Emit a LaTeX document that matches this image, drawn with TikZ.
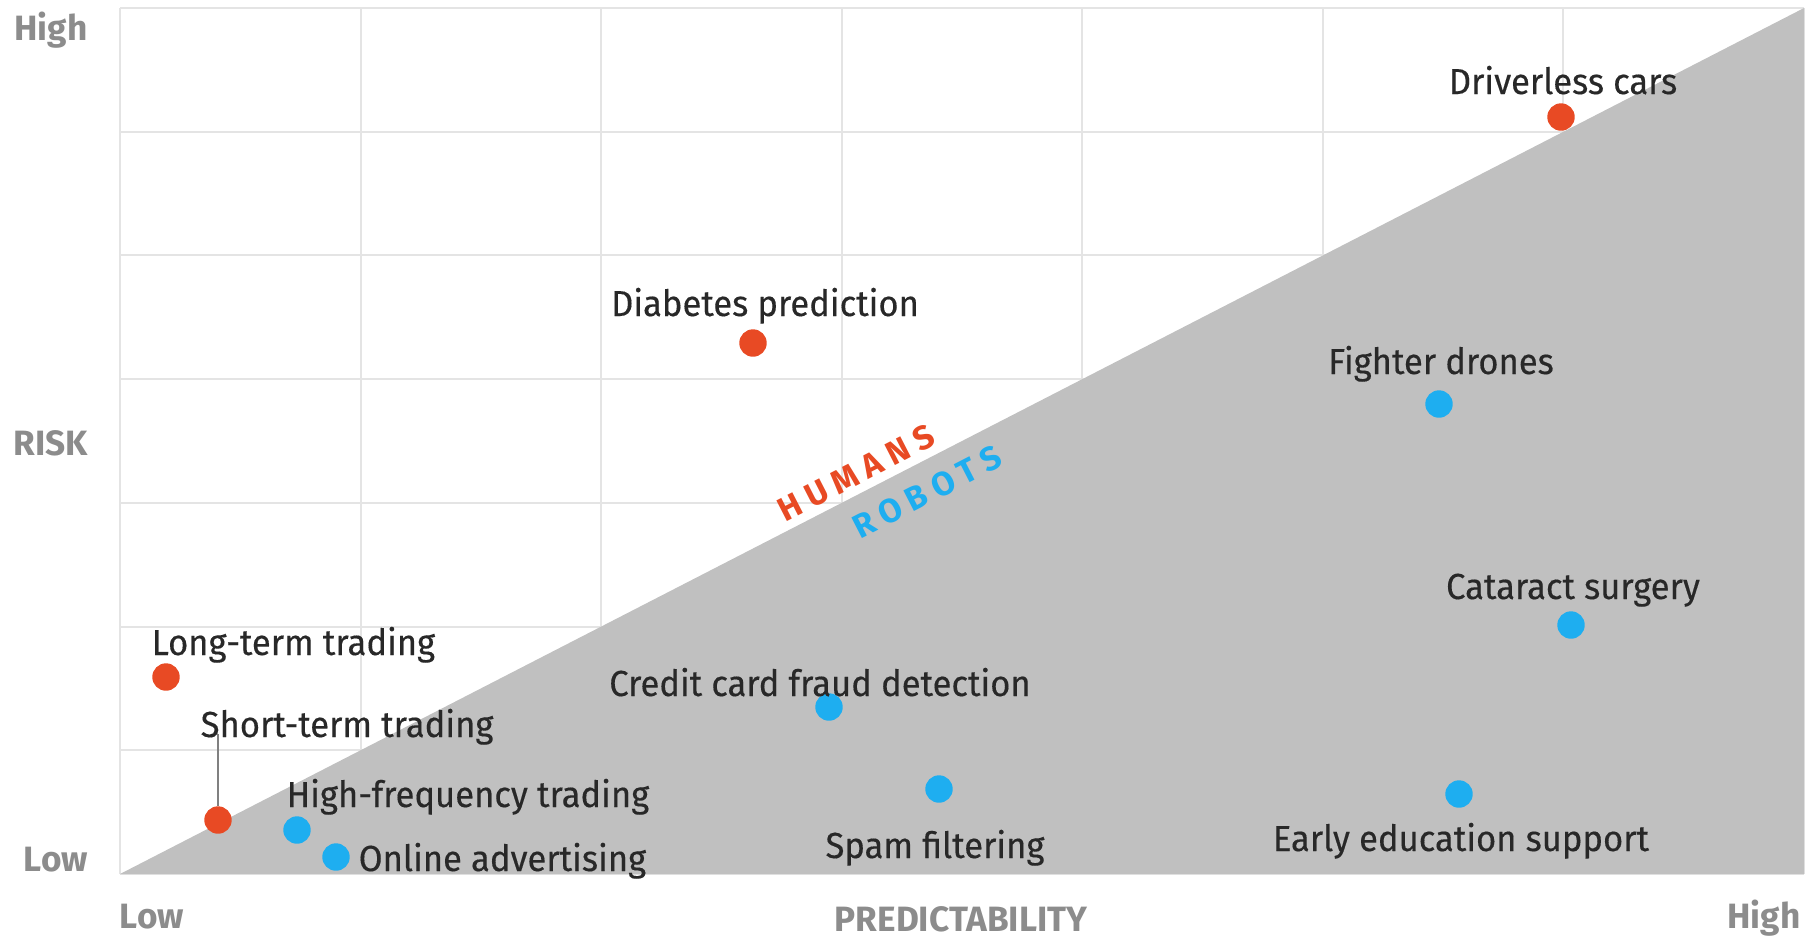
\documentclass[tikz,border=0pt]{standalone}
\usepackage{fontspec}
\setmainfont{Fira Sans}
\newfontfamily\lblfont{Fira Sans}[FakeStretch=0.955,FakeBold=0.3]
\definecolor{hred}{RGB}{232,74,36}
\definecolor{hblue}{RGB}{30,174,240}
\definecolor{zonegrey}{RGB}{192,192,192}
\definecolor{gridc}{RGB}{228,228,228}
\definecolor{axisc}{RGB}{140,140,140}
\definecolor{txt}{RGB}{40,40,40}
\begin{document}
\begin{tikzpicture}[x=0.01cm,y=-0.01cm,
  lbl/.style={font=\lblfont\fontsize{10.3}{12}\selectfont, text=txt, inner sep=0, anchor=base},
  lbll/.style={lbl, anchor=base west},
  axl/.style={font=\fontsize{10}{12}\selectfont\bfseries, text=axisc, inner sep=0, anchor=base},
  hdot/.style={circle, fill=hred, minimum size=7.8pt, inner sep=0},
  rdot/.style={circle, fill=hblue, minimum size=7.8pt, inner sep=0},
  gridline/.style={draw=gridc, line width=0.6pt},
  zone/.style={font=\fontsize{9.5}{11}\selectfont\bfseries\addfontfeature{LetterSpace=24}, inner sep=0, rotate=27.2}
]
\useasboundingbox (0,0) rectangle (1806,941);
\fill[white] (0,0) rectangle (1806,941);
% grid
\foreach \i in {0,...,7} {
  \draw[gridline] ({120+\i*240.57},8) -- ({120+\i*240.57},874);
  \draw[gridline] (120,{8+\i*123.71}) -- (1804,{8+\i*123.71});
}
% robots zone
\fill[zonegrey] (120,874) -- (1804,8) -- (1804,874) -- cycle;
% axis labels
\node[axl] (yhigh) at (51,40) {High};
\node[axl] (risk) at (51,455) {RISK};
\node[axl] (ylow) at (56,871) {Low};
\node[axl] (xlow) at (152,928) {Low};
\node[axl] (pred) at (961,931) {PREDICTABILITY};
\node[axl] (xhigh) at (1764,928) {High};
% zone labels
\node[zone, text=hred] (humans) at (856,473) {HUMANS};
\node[zone, text=hblue] (robots) at (927,492) {ROBOTS};
% dots
\node[hdot] (d1) at (1561,117) {};
\node[hdot] (d2) at (753,343) {};
\node[rdot] (d3) at (1439,404) {};
\node[rdot] (d4) at (1571,625) {};
\node[hdot] (d5) at (166,677) {};
\node[hdot] (d6) at (218,820) {};
\node[rdot] (d7) at (297,830) {};
\node[rdot] (d8) at (336,857) {};
\node[rdot] (d9) at (829,707) {};
\node[rdot] (d10) at (939,789) {};
\node[rdot] (d11) at (1459,794) {};
% labels
\node[lbl] (l1) at (1563,94) {Driverless cars};
\node[lbl] (l2) at (765,316) {Diabetes prediction};
\node[lbl] (l3) at (1441,374) {Fighter drones};
\node[lbl] (l4) at (1573,599) {Cataract surgery};
\node[lbll] (l5) at (151,655) {Long-term trading};
\node[lbll] (l6) at (200,737) {Short-term trading};
\node[lbll] (l7) at (286,807) {High-frequency trading};
\node[lbll] (l8) at (358,871) {Online advertising};
\node[lbl] (l9) at (820,696) {Credit card fraud detection};
\node[lbl] (l10) at (935,858) {Spam filtering};
\node[lbl] (l11) at (1461,851) {Early education support};
% leader
\coordinate (c6) at (218,734);
\draw[draw=gray, line width=0.5pt] (c6) -- (d6.north);
\end{tikzpicture}
\end{document}
